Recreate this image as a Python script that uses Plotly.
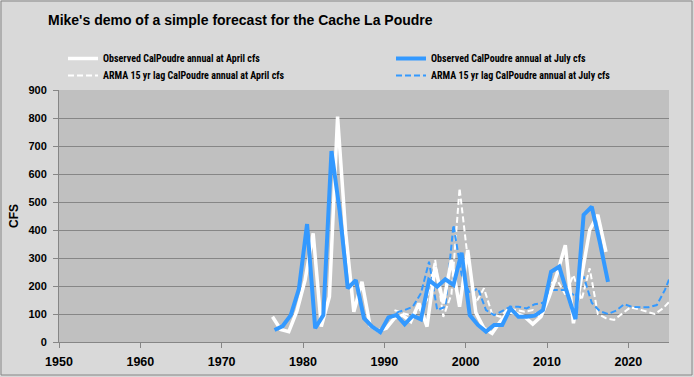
import plotly.graph_objects as go

# ---- data ----
obs_years = list(range(1976, 2018))
obs_april = [90, 45, 37, 110, 220, 388, 55, 162, 805, 390, 108, 215, 58, 40,
             49, 85, 96, 73, 138, 55, 269, 138, 293, 126, 329, 105, 49, 31,
             73, 108, 102, 90, 64, 90, 160, 245, 346, 67, 233, 400, 454, 322]
obs_july = [43, 57, 96, 190, 421, 49, 96, 682, 470, 192, 221, 85, 55, 35,
            88, 96, 63, 94, 81, 221, 198, 224, 204, 319, 96, 61, 37, 61,
            61, 120, 90, 90, 94, 114, 251, 269, 174, 82, 454, 483, 355, 215]
arma_years = list(range(1991, 2026))
arma_april = [114, 103, 95, 110, 150, 293, 90, 170, 549, 300, 140, 192, 100,
              90, 120, 114, 108, 114, 85, 205, 221, 170, 239, 150, 263, 100,
              85, 79, 102, 124, 117, 108, 100, 120, 150]
arma_july = [105, 114, 126, 174, 287, 114, 126, 418, 240, 174, 192, 114, 96,
             110, 126, 126, 120, 135, 140, 186, 186, 186, 162, 235, 140, 110,
             100, 112, 135, 125, 124, 124, 132, 186, 260]
x_ticks = [1950, 1960, 1970, 1980, 1990, 2000, 2010, 2020]
y_ticks = [0, 100, 200, 300, 400, 500, 600, 700, 800, 900]

APRIL_OFF = 0.25   # April 1st as fraction of year
JULY_OFF = 0.5     # July 1st as fraction of year

WHITE = "#ffffff"
BLUE = "#3399ff"
FONT = "Liberation Sans Narrow, Roboto Condensed, Liberation Sans, sans-serif"
BFONT = "Liberation Sans, sans-serif"

fig = go.Figure()
fig.add_trace(go.Scatter(
    x=[y + APRIL_OFF for y in arma_years], y=arma_april, mode="lines",
    name="ARMA 15 yr lag CalPoudre annual at April cfs",
    line=dict(color=WHITE, width=2, dash="6px,3px"), legend="legend3"))
fig.add_trace(go.Scatter(
    x=[y + JULY_OFF for y in arma_years], y=arma_july, mode="lines",
    name="ARMA 15 yr lag CalPoudre annual at July cfs",
    line=dict(color=BLUE, width=2, dash="6px,3px"), legend="legend4"))
fig.add_trace(go.Scatter(
    x=[y + APRIL_OFF for y in obs_years], y=obs_april, mode="lines",
    name="Observed CalPoudre annual at April cfs",
    line=dict(color=WHITE, width=3.5), legend="legend", showlegend=True))
fig.add_trace(go.Scatter(
    x=[y + JULY_OFF for y in obs_years], y=obs_july, mode="lines",
    name="Observed CalPoudre annual at July cfs",
    line=dict(color=BLUE, width=4), legend="legend2"))

L, R, T, B = 59, 25, 90, 35
W, H = 694, 377
pw, ph = W - L - R, H - T - B

def px_x(px):
    return (px - L) / pw

def px_y(py):
    return (H - B - py) / ph

leg_font = dict(family=FONT, size=10, color="#000000", weight="bold")
legend_common = dict(bgcolor="rgba(0,0,0,0)", borderwidth=0, font=leg_font,
                     xanchor="left", yanchor="middle", orientation="v",
                     itemclick=False, visible=True)

fig.update_layout(
    width=W, height=H,
    margin=dict(l=L, r=R, t=T, b=B, autoexpand=False),
    showlegend=True,
    paper_bgcolor="#d9d9d9",
    plot_bgcolor="#c0c0c0",
    title=dict(text="Mike's demo of a simple forecast for the Cache La Poudre",
               x=48 / W, xanchor="left", y=1 - 20 / H, yanchor="middle",
               font=dict(family=BFONT, size=14, color="#000000",
                         weight="bold")),
    legend=dict(x=px_x(63), y=px_y(58.5), **legend_common),
    legend2=dict(x=px_x(391), y=px_y(58.5), **legend_common),
    legend3=dict(x=px_x(63), y=px_y(75.5), **legend_common),
    legend4=dict(x=px_x(391), y=px_y(75.5), **legend_common),
    xaxis=dict(range=[1950, 2025], tickvals=x_ticks, showgrid=False,
               ticks="outside", ticklen=5, tickcolor="#868686",
               showline=True, linecolor="#868686", linewidth=1,
               zeroline=False, ticklabelstandoff=3,
               tickfont=dict(family=BFONT, size=12.5, color="#000000",
                             weight="bold")),
    yaxis=dict(range=[0, 900], tickvals=y_ticks, showgrid=True,
               gridcolor="#868686", gridwidth=1,
               ticks="outside", ticklen=5, tickcolor="#868686",
               showline=True, linecolor="#868686", linewidth=1,
               zeroline=False, ticklabelstandoff=4,
               tickfont=dict(family=BFONT, size=11, color="#000000",
                             weight="bold"),
               title=dict(text="CFS", standoff=7,
                          font=dict(family=BFONT, size=12, color="#000000",
                                    weight="bold"))),
    shapes=[dict(type="rect", xref="paper", yref="paper",
                 x0=px_x(1), x1=px_x(692), y0=px_y(375), y1=px_y(1),
                 line=dict(color="#868686", width=1), fillcolor="rgba(0,0,0,0)",
                 layer="below")],
)

fig.write_html("out.html",
               config={"displayModeBar": False},
               post_script="document.body.style.margin='0';"
                           "document.body.style.overflow='hidden';")
